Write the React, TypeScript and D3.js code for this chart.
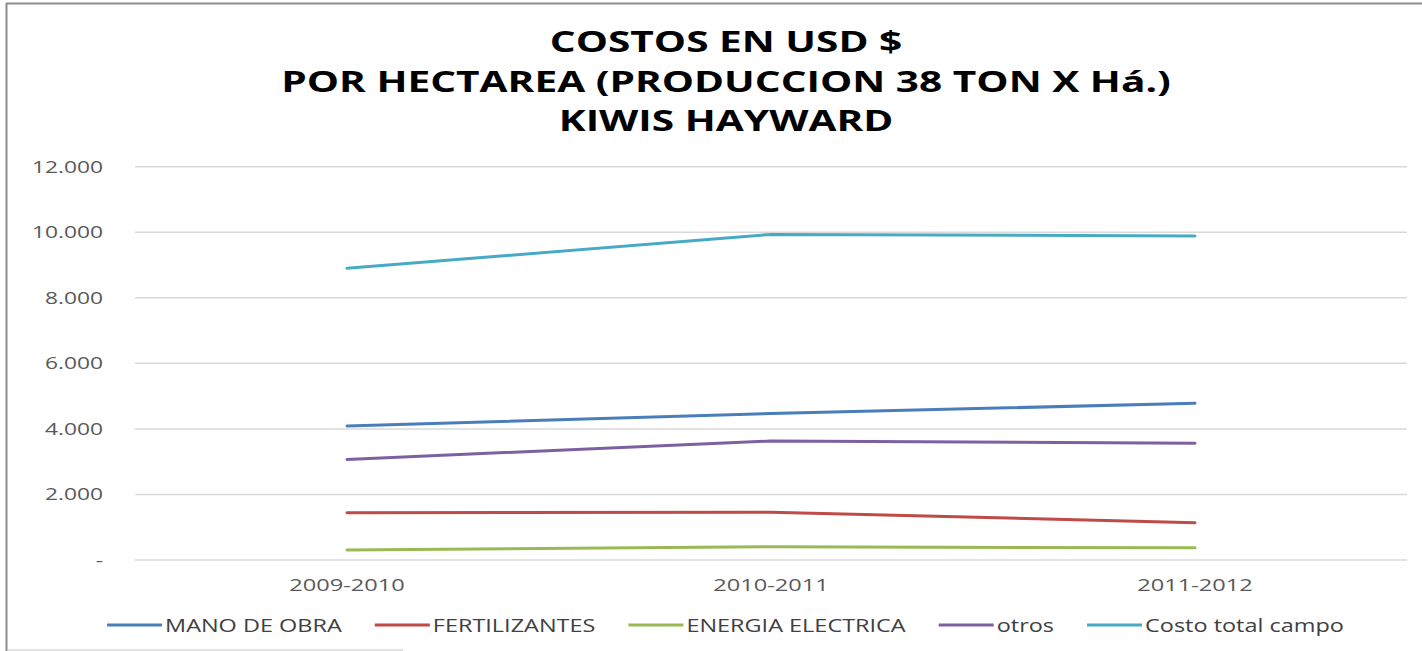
import React, { useEffect, useRef } from "react";
import * as d3 from "d3";

const categories = ["2009-2010", "2010-2011", "2011-2012"];
const manoDeObra = [4090, 4470, 4780];
const fertilizantes = [1445, 1455, 1140];
const energiaElectrica = [305, 405, 370];
const otros = [3070, 3630, 3560];
const costoTotalCampo = [8900, 9935, 9885];
const yTicks = [0, 2000, 4000, 6000, 8000, 10000, 12000];
const titleLines = ["COSTOS EN USD $", "POR HECTAREA (PRODUCCION 38 TON X Há.)", "KIWIS HAYWARD"];
const seriesNames = ["MANO DE OBRA", "FERTILIZANTES", "ENERGIA ELECTRICA", "otros", "Costo total campo"];
const seriesValues = [manoDeObra, fertilizantes, energiaElectrica, otros, costoTotalCampo];
const seriesColors = ["#4A7EBB", "#BE4B48", "#98B954", "#7D60A0", "#46AAC5"];

const W = 1422;
const H = 651;
const FONT = "'Open Sans', 'DejaVu Sans', sans-serif";

function stretch(sel: d3.Selection<SVGTextElement, any, any, any>, k: number) {
  sel.each(function () {
    const el = this as SVGTextElement;
    el.removeAttribute("textLength");
    const w = el.getComputedTextLength();
    d3.select(el).attr("textLength", w * k).attr("lengthAdjust", "spacingAndGlyphs");
  });
}

export default function App() {
  const ref = useRef<SVGSVGElement | null>(null);

  useEffect(() => {
    const svg = d3.select(ref.current);
    svg.selectAll("*").remove();

    const left = 135, right = 1407, top = 166.7, bottom = 560;
    const x = d3.scaleBand<string>().domain(categories).range([left, right]);
    const cx = (c: string) => (x(c) as number) + x.bandwidth() / 2;
    const y = d3.scaleLinear().domain([0, 12000]).range([bottom, top]);
    const loc = d3.formatLocale({ decimal: ",", thousands: ".", grouping: [3], currency: ["$", ""] });
    const fmt = (v: number) => (v === 0 ? "-" : loc.format(",")(v));

    svg.append("rect").attr("x", 0).attr("y", 0).attr("width", W).attr("height", H).attr("fill", "#fff");

    // frame
    svg.append("line").attr("x1", 6.5).attr("x2", 6.5).attr("y1", 3).attr("y2", H).attr("stroke", "#8c8c8c").attr("stroke-width", 2);
    svg.append("line").attr("x1", 6).attr("x2", W).attr("y1", 3.5).attr("y2", 3.5).attr("stroke", "#8c8c8c").attr("stroke-width", 2);
    svg.append("line").attr("x1", 8).attr("x2", 403).attr("y1", 650).attr("y2", 650).attr("stroke", "#d9d9d9").attr("stroke-width", 1.5);

    // title
    const titleBaselines = [52, 92, 131];
    const t = svg.append("g").selectAll("text").data(titleLines).join("text")
      .attr("x", 726).attr("y", (_d, i) => titleBaselines[i])
      .attr("text-anchor", "middle")
      .attr("font-family", FONT).attr("font-weight", 700).attr("font-size", 28)
      .attr("fill", "#000").text((d) => d);
    stretch(t as any, 1.45);

    // grid
    svg.append("g").selectAll("line").data(yTicks).join("line")
      .attr("x1", left).attr("x2", right)
      .attr("y1", (d) => y(d)).attr("y2", (d) => y(d))
      .attr("stroke", "#d9d9d9").attr("stroke-width", 1.5);

    // y labels
    const yl = svg.append("g").selectAll("text").data(yTicks).join("text")
      .attr("x", 103).attr("y", (d) => y(d) + 6)
      .attr("text-anchor", "end")
      .attr("font-family", FONT).attr("font-size", 16.5).attr("fill", "#595959")
      .text((d) => fmt(d));
    stretch(yl as any, 1.38);

    // x labels
    const xl = svg.append("g").selectAll("text").data(categories).join("text")
      .attr("x", (d) => cx(d)).attr("y", 591)
      .attr("text-anchor", "middle")
      .attr("font-family", FONT).attr("font-size", 16.5).attr("fill", "#595959")
      .text((d) => d);
    stretch(xl as any, 1.43);

    // lines
    const line = d3.line<number>().x((_d, i) => cx(categories[i])).y((d) => y(d));
    svg.append("g").selectAll("path").data(seriesValues).join("path")
      .attr("d", (d) => line(d) as string)
      .attr("fill", "none")
      .attr("stroke", (_d, i) => seriesColors[i])
      .attr("stroke-width", 3)
      .attr("stroke-linejoin", "round")
      .attr("stroke-linecap", "round");

    // legend
    const lg = svg.append("g");
    const items = seriesNames.map((name, i) => {
      const g = lg.append("g");
      g.append("line").attr("x1", 0).attr("x2", 55).attr("y1", 0).attr("y2", 0)
        .attr("stroke", seriesColors[i]).attr("stroke-width", 3);
      const tx = g.append("text").attr("x", 58).attr("y", 6.5)
        .attr("font-family", FONT).attr("font-size", 17.5).attr("fill", "#404040").text(name);
      stretch(tx as any, 1.34);
      const w = 58 + Number(tx.attr("textLength"));
      return { g, w };
    });
    const gap = 33;
    const total = d3.sum(items, (d) => d.w) + gap * (items.length - 1);
    let pos = 725.5 - total / 2;
    items.forEach((it) => {
      it.g.attr("transform", `translate(${pos},625)`);
      pos += it.w + gap;
    });
  }, []);

  return (
    <svg ref={ref} width={W} height={H} style={{ position: "absolute", left: 0, top: 0, display: "block" }} />
  );
}
